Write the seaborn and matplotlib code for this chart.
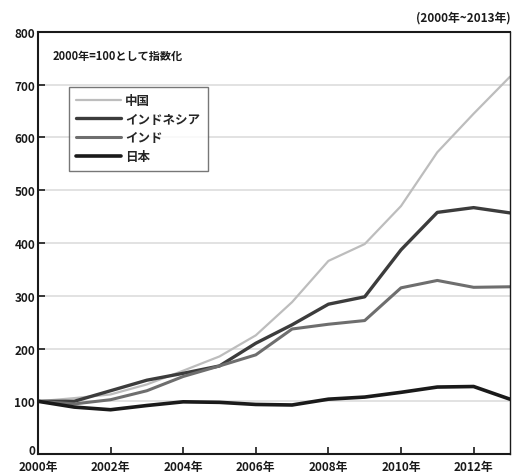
import matplotlib
matplotlib.use('Agg')
import matplotlib.pyplot as plt
import matplotlib.transforms as mtransforms
import seaborn as sns
import pandas as pd

# index values, 2000 = 100
years = list(range(2000, 2014))
china = [100, 106, 113, 132, 158, 185, 225, 288, 366, 398, 470, 572, 645, 715]
indonesia = [100, 100, 120, 140, 153, 167, 210, 245, 284, 298, 387, 458, 467, 457]
india = [100, 95, 103, 120, 147, 167, 188, 237, 246, 253, 315, 329, 316, 317]
japan = [100, 89, 84, 92, 99, 98, 94, 93, 104, 108, 117, 127, 128, 104]

series_names = ['中国', 'インドネシア', 'インド', '日本']
tick_years = [2000, 2002, 2004, 2006, 2008, 2010, 2012]
tick_labels = [f"{y}年" for y in tick_years]

rows = []
for name, vals in zip(series_names, [china, indonesia, india, japan]):
    for y, v in zip(years, vals):
        rows.append({'year': y, 'value': v, 'country': name})
df = pd.DataFrame(rows)

sns.set_theme(style='white')
plt.rcParams['font.family'] = ['Noto Sans CJK JP', 'DejaVu Sans']

colors = {'中国': '#bdbdbd', 'インドネシア': '#3c3c3c', 'インド': '#6e6e6e', '日本': '#1a1a1a'}
widths = {'中国': 1.6, 'インドネシア': 2.4, 'インド': 2.2, '日本': 2.6}

fig = plt.figure(figsize=(5.13, 4.77), dpi=100)
ax = fig.add_axes([0.074, 0.046, 0.92, 0.885])

sns.lineplot(data=df, x='year', y='value', hue='country', hue_order=series_names,
             palette=colors, ax=ax, legend=False)
for line, name in zip(ax.get_lines(), series_names):
    line.set_linewidth(widths[name])

ax.set_xlim(2000, 2013)
ax.set_ylim(0, 800)
ax.set_yticks(range(0, 801, 100))
ax.set_xticks(tick_years)
ax.set_xticklabels(tick_labels)
ax.set_xlabel('')
ax.set_ylabel('')
ax.yaxis.grid(True, color='#dddddd', linewidth=1.2)
ax.set_axisbelow(True)
ax.tick_params(axis='both', direction='in', length=5, width=1.2, labelsize=8.5,
               colors='#1a1a1a', pad=2, left=True, bottom=True)
ax.tick_params(axis='x', pad=4)
for lbl in ax.get_xticklabels() + ax.get_yticklabels():
    lbl.set_fontweight('bold')
# nudge the "0" label up so it clears "2000年"
zero_lbl = ax.get_yticklabels()[0]
zero_lbl.set_transform(zero_lbl.get_transform() +
                       mtransforms.ScaledTranslation(0, 4 / 72, fig.dpi_scale_trans))
for s in ax.spines.values():
    s.set_color('#1a1a1a')
    s.set_linewidth(1.5)
ax.spines['right'].set_linewidth(1.0)

handles = [plt.Line2D([], [], color=colors[n], lw=widths[n]) for n in series_names]
leg = ax.legend(handles, series_names, loc='upper left', bbox_to_anchor=(0.052, 0.885),
                frameon=True, fancybox=False, prop={'size': 9, 'weight': 'bold'},
                handlelength=3.6, handletextpad=0.3, labelspacing=0.45, borderpad=0.6)
leg.get_frame().set_edgecolor('#555555')
leg.get_frame().set_linewidth(1.0)

ax.text(0.03, 0.945, '2000年=100として指数化', transform=ax.transAxes,
        fontsize=8, fontweight='bold', va='center', ha='left', color='#1a1a1a')
fig.text(0.995, 0.962, '(2000年~2013年)', fontsize=8.5, fontweight='bold',
         ha='right', va='center', color='#1a1a1a')

fig.savefig('out.png', dpi=100, facecolor='white')
